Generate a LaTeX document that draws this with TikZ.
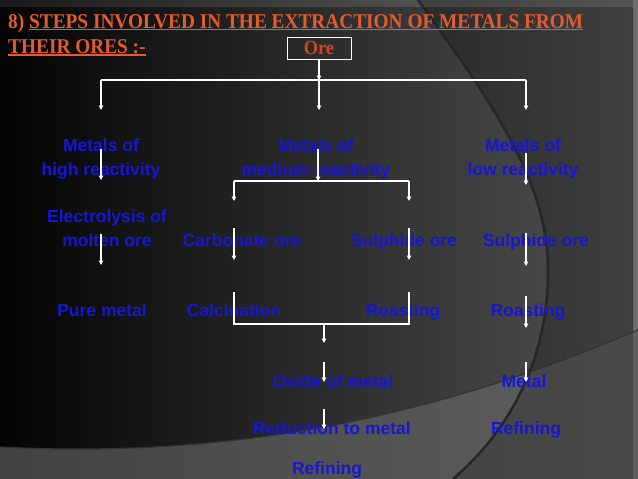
\documentclass[tikz,border=0pt]{standalone}
\usepackage{fontspec}
\usetikzlibrary{arrows.meta}
\setmainfont{Liberation Sans}
\newfontfamily\titlefont[FakeStretch=0.92]{Liberation Serif}

\definecolor{titleorange}{RGB}{228,92,46}
\definecolor{orered}{RGB}{218,66,30}
\definecolor{flowblue}{RGB}{22,22,212}
\definecolor{frameL}{RGB}{25,25,25}
\definecolor{frameR}{RGB}{110,110,110}
\definecolor{panelL}{RGB}{4,4,4}
\definecolor{panelR}{RGB}{82,82,82}
\definecolor{lowL}{RGB}{66,66,66}
\definecolor{lowR}{RGB}{96,96,96}

% thick underline for the heading
\newcommand{\ulthick}[1]{\setbox0\hbox{#1}\rlap{\rule[-2.5pt]{\wd0}{1.5pt}}\box0}

\begin{document}
\begin{tikzpicture}[x=1pt, y=-1pt,
    heading/.style={anchor=base west, inner sep=0pt, text=titleorange,
        font=\titlefont\bfseries\fontsize{21}{25}\selectfont},
    orebox/.style={draw=white, line width=0.9pt, minimum width=64pt,
        minimum height=22pt, inner sep=0pt, text=orered,
        font=\titlefont\bfseries\fontsize{20}{24}\selectfont},
    stage/.style={anchor=base, inner sep=0pt, align=center, text=flowblue,
        font=\bfseries\fontsize{17.5}{24}\selectfont},
    link/.style={white, line width=1.3pt},
    flow/.style={link, -{Triangle[length=4.5pt,width=4.5pt]}}
]
    \useasboundingbox (0,0) rectangle (638,479);

    % background
    \fill[left color=frameL, right color=frameR] (0,0) rectangle (638,479);
    \fill[left color=panelL, right color=panelR] (0,7) rectangle (633,479);
    \fill[left color=lowL, right color=lowR] (0,447) .. controls (250,460) and (450,410) .. (638,330)
        -- (638,479) -- (0,479) -- cycle;
    \fill[black, opacity=0.22] (418,0) .. controls (490,100) and (548,180) .. (548,270)
        .. controls (548,360) and (510,430) .. (453,479) -- (633,479) -- (633,0) -- cycle;
    \draw[black!85, line width=2.5pt] (418,0) .. controls (490,100) and (548,180) .. (548,270)
        .. controls (548,360) and (510,430) .. (453,479);
    \draw[black!80, line width=1.2pt] (0,447) .. controls (250,460) and (450,410) .. (638,330);

    % heading
    \node[heading] (num) at (8,28) {8) \ulthick{STEPS INVOLVED IN THE EXTRACTION OF METALS FROM}};
    \node[heading] (num2) at (8,53) {\ulthick{THEIR ORES :-}};

    \node[orebox] (ore) at (319,48) {Ore};

    % first level (base = last line)
    \node[stage] (high) at (101,175) {Metals of\\high reactivity};
    \node[stage] (medium) at (316,175) {Metals of\\medium reactivity};
    \node[stage] (low) at (523,175) {Metals of\\low reactivity};

    % second level
    \node[stage] (electro) at (107,246) {Electrolysis of\\molten ore};
    \node[stage] (carbonate) at (242,246) {Carbonate ore};
    \node[stage] (sulphA) at (404,246) {Sulphide ore};
    \node[stage] (sulphB) at (536,246) {Sulphide ore};

    % third level
    \node[stage] (pure) at (102,316) {Pure metal};
    \node[stage] (calcin) at (234,316) {Calcination};
    \node[stage] (roastA) at (403,316) {Roasting};
    \node[stage] (roastB) at (528,316) {Roasting};

    \node[stage] (oxide) at (333,387) {Oxide of metal};
    \node[stage] (metal) at (524,387) {Metal};
    \node[stage] (reduce) at (332,434) {Reduction to metal};
    \node[stage] (refineB) at (526,434) {Refining};
    \node[stage] (refineA) at (327,474) {Refining};

    % arrow ends
    \coordinate (busL) at (101,80);
    \coordinate (busM) at (319,80);
    \coordinate (busR) at (526,80);
    \coordinate (highIn) at (101,110);
    \coordinate (medIn) at (319,110);
    \coordinate (lowIn) at (526,110);
    \coordinate (highA) at (101,149);
    \coordinate (highB) at (101,180);
    \coordinate (medA) at (318,149);
    \coordinate (medB) at (318,181);
    \coordinate (forkL) at (234,181);
    \coordinate (forkR) at (409,181);
    \coordinate (carbIn) at (234,201);
    \coordinate (sulIn) at (409,201);
    \coordinate (lowA) at (526,153);
    \coordinate (lowB) at (526,185);
    \coordinate (elA) at (101,234);
    \coordinate (elB) at (101,265);
    \coordinate (carbA) at (234,228);
    \coordinate (carbB) at (234,260);
    \coordinate (sulA) at (409,228);
    \coordinate (sulB) at (409,260);
    \coordinate (sulC) at (526,233);
    \coordinate (sulD) at (526,266);
    \coordinate (calTop) at (234,292);
    \coordinate (calBot) at (234,324);
    \coordinate (roaTop) at (409,292);
    \coordinate (roaBot) at (409,324);
    \coordinate (joinA) at (324,324);
    \coordinate (joinB) at (324,343);
    \coordinate (roaC) at (526,296);
    \coordinate (roaD) at (526,328);
    \coordinate (oxA) at (324,362);
    \coordinate (oxB) at (324,382);
    \coordinate (meA) at (526,362);
    \coordinate (meB) at (526,382);
    \coordinate (reA) at (324,409);
    \coordinate (reB) at (324,429);

    % connectors
    \draw[flow] (ore) -- (busM);
    \draw[link] (busL) -- (busR);
    \draw[flow] (busL) -- (highIn);
    \draw[flow] (busM) -- (medIn);
    \draw[flow] (busR) -- (lowIn);
    \draw[flow] (highA) -- (highB);
    \draw[flow] (medA) -- (medB);
    \draw[link] (forkL) -- (forkR);
    \draw[flow] (forkL) -- (carbIn);
    \draw[flow] (forkR) -- (sulIn);
    \draw[flow] (lowA) -- (lowB);
    \draw[flow] (elA) -- (elB);
    \draw[flow] (carbA) -- (carbB);
    \draw[flow] (sulA) -- (sulB);
    \draw[flow] (sulC) -- (sulD);
    \draw[link] (calTop) -- (calBot) -- (roaBot) -- (roaTop);
    \draw[flow] (joinA) -- (joinB);
    \draw[flow] (roaC) -- (roaD);
    \draw[flow] (oxA) -- (oxB);
    \draw[flow] (meA) -- (meB);
    \draw[flow] (reA) -- (reB);
\end{tikzpicture}
\end{document}
